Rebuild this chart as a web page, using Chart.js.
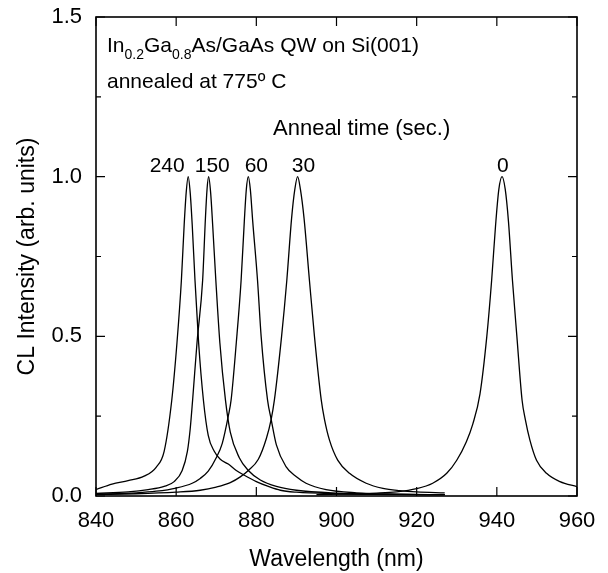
<!DOCTYPE html>
<html>
<head>
<meta charset="utf-8">
<script src="https://cdn.jsdelivr.net/npm/chart.js@4.4.1/dist/chart.umd.min.js"></script>
<style>
  html, body { margin: 0; padding: 0; background: #fff; }
</style>
</head>
<body>
<canvas id="clChart" width="608" height="573"></canvas>
<script>
// CL spectra of the annealed QW, one curve per anneal time (sec.)
// wavelength (nm) / normalised intensity
const wl240 = [840, 844, 848, 852, 855, 857, 858.9, 860.2, 861.3, 862.0, 862.5, 863.0, 863.5, 864.0, 864.7, 865.6, 866.8, 868, 869.5, 871, 873, 875, 877, 880, 883, 886, 890, 900, 910, 927];
const cl240 = [0.02, 0.037, 0.048, 0.062, 0.09, 0.14, 0.30, 0.48, 0.675, 0.85, 0.95, 1.0, 0.95, 0.85, 0.675, 0.48, 0.30, 0.19, 0.14, 0.115, 0.10, 0.08, 0.065, 0.045, 0.03, 0.018, 0.012, 0.007, 0.005, 0.004];

const wl150 = [840, 848, 853, 857, 859.5, 861.5, 862.8, 863.5, 864.1, 865.2, 866.6, 867.3, 867.7, 868.1, 868.6, 869.1, 869.9, 870.9, 872.3, 873.5, 875.75, 878, 881, 885, 890, 900, 910, 927];
const cl150 = [0.008, 0.013, 0.02, 0.03, 0.045, 0.08, 0.14, 0.21, 0.30, 0.48, 0.675, 0.87, 0.96, 1.0, 0.95, 0.85, 0.675, 0.48, 0.30, 0.2, 0.12, 0.08, 0.05, 0.03, 0.018, 0.009, 0.006, 0.004];

const wl60 = [840, 850, 855, 860, 864, 866, 868, 870, 871.5, 873, 873.7, 875, 876.2, 877.0, 877.5, 878, 878.5, 879.1, 880.3, 881.2, 882.8, 883.7, 885, 887.4, 890, 892.4, 897.4, 905, 915, 927];
const cl60 = [0.005, 0.01, 0.015, 0.025, 0.04, 0.055, 0.078, 0.12, 0.165, 0.25, 0.30, 0.48, 0.675, 0.86, 0.96, 1.0, 0.96, 0.86, 0.675, 0.5, 0.30, 0.24, 0.16, 0.092, 0.06, 0.04, 0.02, 0.01, 0.006, 0.004];

const wl30 = [840, 850, 860, 866, 870, 873.5, 876, 878, 880.5, 882.5, 883.7, 884.5, 886.3, 887.6, 888.8, 889.6, 890.3, 891.0, 891.9, 893.25, 894.5, 896.2, 897, 898.25, 900.3, 903.25, 907.4, 911.6, 915.75, 920, 927];
const cl30 = [0.005, 0.007, 0.012, 0.018, 0.028, 0.042, 0.06, 0.08, 0.115, 0.18, 0.24, 0.30, 0.5, 0.675, 0.87, 0.96, 1.0, 0.96, 0.87, 0.675, 0.5, 0.30, 0.24, 0.175, 0.1125, 0.071, 0.04, 0.024, 0.017, 0.013, 0.01];

const wl0 = [895, 905, 910, 915, 920, 924, 927.5, 930, 932.4, 934, 935.8, 937.5, 938.7, 939.7, 940.5, 941.3, 942.1, 942.9, 943.9, 945, 946.3, 947.1, 948.25, 949.9, 952.4, 955.75, 960];
const cl0 = [0.004, 0.007, 0.009, 0.013, 0.023, 0.040, 0.071, 0.112, 0.17, 0.225, 0.32, 0.50, 0.675, 0.85, 0.96, 1.0, 0.96, 0.86, 0.675, 0.50, 0.30, 0.24, 0.175, 0.112, 0.071, 0.045, 0.029];

const xTicks = [840, 860, 880, 900, 920, 940, 960];
const yTicks = [0, 0.5, 1.0, 1.5];
const yMinor = [0.25, 0.75, 1.25];

const peakTags = ['240', '150', '60', '30', '0'];
const tagWl = [857.75, 869, 880, 891.75, 941.5];
const tagLevel = 1.04;

const FONT = '"Liberation Sans", Arial, sans-serif';

function pts(xs, ys) {
    return xs.map((v, i) => ({ x: v, y: ys[i] }));
}

function curve(xs, ys) {
    return {
        data: pts(xs, ys),
        borderColor: '#000',
        borderWidth: 1.3,
        pointRadius: 0,
        fill: false,
        cubicInterpolationMode: 'monotone'
    };
}

// frame with inward ticks + the text on the plot
const framePlugin = {
    id: 'frame',
    afterDatasetsDraw(chart) {
        const { ctx, chartArea: a, scales: { x, y } } = chart;
        ctx.save();
        ctx.strokeStyle = '#000';
        ctx.lineWidth = 1.6;
        ctx.strokeRect(a.left, a.top, a.right - a.left, a.bottom - a.top);

        ctx.lineWidth = 1.2;
        ctx.beginPath();
        xTicks.forEach(v => {
            const px = x.getPixelForValue(v);
            ctx.moveTo(px, a.bottom); ctx.lineTo(px, a.bottom - 9);
            ctx.moveTo(px, a.top); ctx.lineTo(px, a.top + 9);
        });
        yTicks.forEach(v => {
            const py = y.getPixelForValue(v);
            ctx.moveTo(a.left, py); ctx.lineTo(a.left + 9, py);
            ctx.moveTo(a.right, py); ctx.lineTo(a.right - 9, py);
        });
        yMinor.forEach(v => {
            const py = y.getPixelForValue(v);
            ctx.moveTo(a.left, py); ctx.lineTo(a.left + 5, py);
            ctx.moveTo(a.right, py); ctx.lineTo(a.right - 5, py);
        });
        ctx.stroke();

        ctx.fillStyle = '#000';
        ctx.textBaseline = 'alphabetic';
        ctx.textAlign = 'left';

        // In0.2Ga0.8As/GaAs QW on Si(001)
        const big = '21px ' + FONT, small = '14px ' + FONT;
        const parts = [['In', 0], ['0.2', 1], ['Ga', 0], ['0.8', 1], ['As/GaAs QW on Si(001)', 0]];
        let cx = a.left + 11;
        const base1 = a.top + 35;
        parts.forEach(([t, sub]) => {
            ctx.font = sub ? small : big;
            ctx.fillText(t, cx, sub ? base1 + 7 : base1);
            cx += ctx.measureText(t).width;
        });
        ctx.font = big;
        ctx.fillText('annealed at 775º C', a.left + 11, base1 + 36);
        ctx.font = '22px ' + FONT;
        ctx.fillText('Anneal time (sec.)', a.left + 177, base1 + 83);

        ctx.font = big;
        ctx.textAlign = 'center';
        peakTags.forEach((t, i) => {
            ctx.fillText(t, x.getPixelForValue(tagWl[i]), y.getPixelForValue(tagLevel) + 8);
        });
        ctx.restore();
    }
};

new Chart(document.getElementById('clChart').getContext('2d'), {
    type: 'line',
    data: {
        datasets: [
            curve(wl240, cl240),
            curve(wl150, cl150),
            curve(wl60, cl60),
            curve(wl30, cl30),
            curve(wl0, cl0)
        ]
    },
    options: {
        responsive: false,
        animation: false,
        devicePixelRatio: 1,
        layout: { padding: { top: 17, right: 31, left: 0, bottom: 0 } },
        plugins: {
            legend: { display: false },
            tooltip: { enabled: false }
        },
        scales: {
            x: {
                type: 'linear',
                min: 840,
                max: 960,
                afterFit: s => { s.height = 77; s.paddingLeft = 0; s.paddingRight = 0; },
                grid: { display: false, drawTicks: false },
                border: { display: false },
                ticks: {
                    stepSize: 20,
                    padding: 12,
                    color: '#000',
                    font: { family: FONT, size: 22 }
                },
                title: {
                    display: true,
                    text: 'Wavelength (nm)',
                    color: '#000',
                    font: { family: FONT, size: 23 },
                    padding: { top: 0, bottom: 0 }
                }
            },
            y: {
                min: 0,
                max: 1.5,
                afterFit: s => { s.width = 96; s.paddingTop = 0; s.paddingBottom = 0; },
                grid: { display: false, drawTicks: false },
                border: { display: false },
                ticks: {
                    stepSize: 0.5,
                    padding: 14,
                    color: '#000',
                    font: { family: FONT, size: 22 },
                    callback: v => v.toFixed(1)
                },
                title: {
                    display: true,
                    text: 'CL Intensity (arb. units)',
                    color: '#000',
                    font: { family: FONT, size: 23 },
                    padding: { top: 14, bottom: 0 }
                }
            }
        }
    },
    plugins: [framePlugin]
});
</script>
</body>
</html>
